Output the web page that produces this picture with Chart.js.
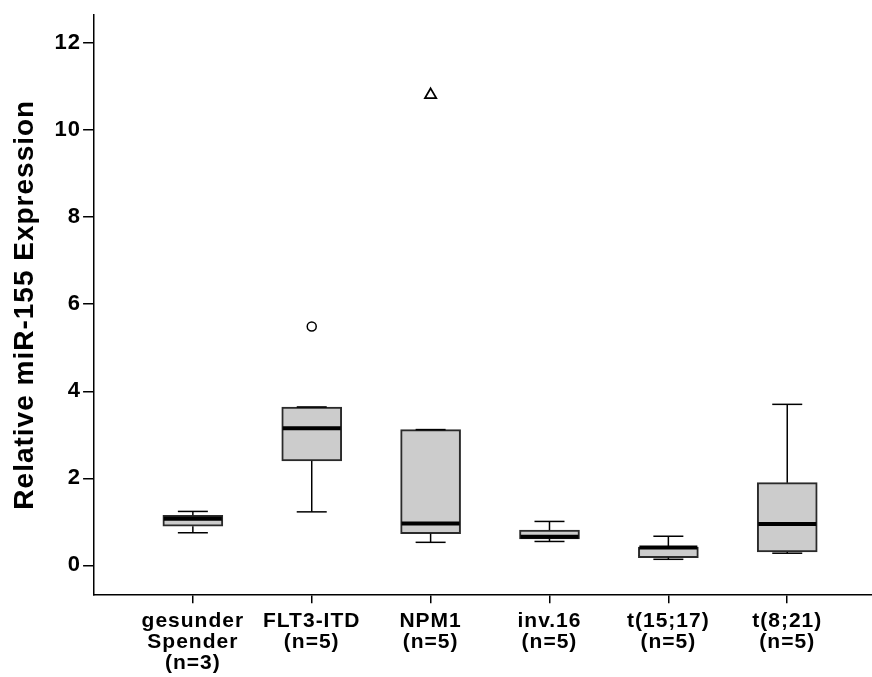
<!DOCTYPE html>
<html>
<head>
<meta charset="utf-8">
<script src="https://cdn.jsdelivr.net/npm/chart.js@4/dist/chart.umd.min.js"></script>
<style>
  html, body { margin: 0; padding: 0; background: #fff; }
  #wrap { width: 872px; height: 677px; position: relative; }
</style>
</head>
<body>
<div id="wrap"><canvas id="chart"></canvas></div>
<script>
// groups along the x axis
const groupNames = ['gesunder Spender', 'FLT3-ITD', 'NPM1', 'inv.16', 't(15;17)', 't(8;21)'];
const groupSizes = [3, 5, 5, 5, 5, 5];

// box plot statistics
const lowerWhisker = [0.75, 1.23, 0.53, 0.55, 0.14, 0.28];
const q1 = [0.90, 2.40, 0.73, 0.61, 0.18, 0.31];
const median = [1.07, 3.15, 0.96, 0.66, 0.41, 0.95];
const q3 = [1.15, 3.64, 3.12, 0.81, 0.42, 1.90];
const upperWhisker = [1.24, 3.64, 3.12, 1.01, 0.67, 3.70];

// outliers (circle) and extremes (triangle)
const outliers = [{ group: 2, value: 5.49 }];
const extremes = [{ group: 3, value: 10.81 }];

const yTicks = [0, 2, 4, 6, 8, 10, 12];

const FONT = '"Liberation Sans", Arial, sans-serif';

const labelLines = groupNames.map((name, i) => [...name.split(' '), '(n=' + groupSizes[i] + ')']);

const spacing = {
  id: 'spacing',
  beforeLayout(chart) { chart.ctx.letterSpacing = '1px'; },
  beforeDraw(chart) { chart.ctx.letterSpacing = '1px'; }
};

const whiskers = {
  id: 'whiskers',
  afterDatasetsDraw(chart) {
    const { ctx, scales: { x, y } } = chart;
    ctx.save();
    ctx.strokeStyle = '#000';
    groupNames.forEach((name, i) => {
      const cx = x.getPixelForValue(i + 1);
      const half = 15;
      const line = (x1, y1, x2, y2) => {
        ctx.beginPath();
        ctx.moveTo(x1, y1);
        ctx.lineTo(x2, y2);
        ctx.stroke();
      };
      ctx.lineWidth = 1.5;
      // upper whisker
      line(cx, y.getPixelForValue(q3[i]), cx, y.getPixelForValue(upperWhisker[i]));
      line(cx - half, y.getPixelForValue(upperWhisker[i]), cx + half, y.getPixelForValue(upperWhisker[i]));
      // lower whisker
      line(cx, y.getPixelForValue(q1[i]), cx, y.getPixelForValue(lowerWhisker[i]));
      line(cx - half, y.getPixelForValue(lowerWhisker[i]), cx + half, y.getPixelForValue(lowerWhisker[i]));
      // median
      ctx.lineWidth = 4;
      line(cx - 29, y.getPixelForValue(median[i]), cx + 29, y.getPixelForValue(median[i]));
    });
    ctx.restore();
  }
};

new Chart(document.getElementById('chart'), {
  type: 'bar',
  data: {
    datasets: [
      {
        data: groupNames.map((n, i) => ({ x: i + 1, y: [q1[i], q3[i]] })),
        backgroundColor: '#cccccc',
        borderColor: '#2a2a2a',
        borderWidth: 2,
        borderSkipped: false,
        barThickness: 60
      },
      {
        type: 'scatter',
        data: outliers.map(o => ({ x: o.group, y: o.value })),
        pointStyle: 'circle',
        radius: 4.5,
        borderWidth: 1.5,
        borderColor: '#000',
        backgroundColor: '#fff'
      },
      {
        type: 'scatter',
        data: extremes.map(o => ({ x: o.group, y: o.value })),
        pointStyle: 'triangle',
        radius: 6.5,
        borderWidth: 1.8,
        borderColor: '#000',
        backgroundColor: '#fff'
      }
    ]
  },
  options: {
    responsive: true,
    maintainAspectRatio: false,
    animation: false,
    events: [],
    layout: { autoPadding: false, padding: { left: 4, top: 13, right: 0, bottom: 0 } },
    plugins: {
      legend: { display: false },
      tooltip: { enabled: false }
    },
    scales: {
      x: {
        type: 'linear',
        min: 0.169,
        max: 6.713,
        offset: false,
        afterBuildTicks: scale => { scale.ticks = groupNames.map((n, i) => ({ value: i + 1 })); },
        afterFit: scale => {
          scale.paddingLeft = 0;
          scale.paddingRight = 0;
          scale.height -= 4;
        },
        grid: { offset: false, drawOnChartArea: false, drawTicks: true, tickLength: 9, color: '#000', lineWidth: 1.5 },
        border: { display: true, color: '#000', width: 1.5 },
        ticks: {
          autoSkip: false,
          maxRotation: 0,
          minRotation: 0,
          padding: 8,
          color: '#000',
          font: { family: FONT, size: 21, weight: 'bold', lineHeight: 0.98 },
          callback: value => labelLines[value - 1]
        }
      },
      y: {
        min: -0.663,
        max: 12.64,
        afterBuildTicks: scale => { scale.ticks = yTicks.map(v => ({ value: v })); },
        grid: { drawOnChartArea: false, drawTicks: true, tickLength: 11, color: '#000', lineWidth: 1.5 },
        border: { display: true, color: '#000', width: 1.5 },
        ticks: {
          padding: 2,
          color: '#000',
          font: { family: FONT, size: 22, weight: 'bold' }
        },
        title: {
          display: true,
          text: 'Relative miR-155 Expression',
          color: '#000',
          padding: { top: 4, bottom: 11 },
          font: { family: FONT, size: 28, weight: 'bold', lineHeight: 1.2 }
        }
      }
    }
  },
  plugins: [spacing, whiskers]
});
</script>
</body>
</html>
